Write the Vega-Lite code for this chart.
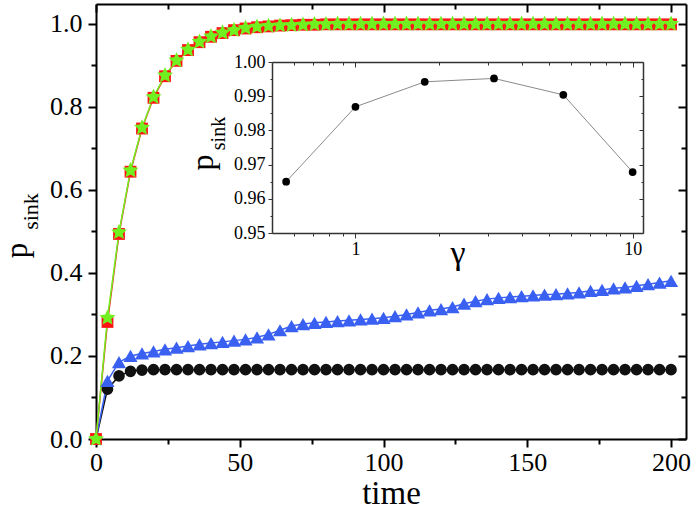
{
  "$schema": "https://vega.github.io/schema/vega-lite/v6.json",
  "width": 590,
  "height": 435,
  "autosize": {"type": "none"},
  "padding": {"left": 96, "top": 4, "right": 6, "bottom": 72},
  "background": "white",
  "config": {
    "view": {"stroke": null},
    "axis": {
      "grid": false,
      "labelFont": "Liberation Serif",
      "titleFont": "Liberation Serif",
      "labelColor": "black",
      "titleColor": "black",
      "titleFontWeight": "normal",
      "domainColor": "black",
      "tickColor": "black",
      "labelOverlap": false,
      "labelFlush": false
    }
  },
  "datasets": {
    "main": [
      {"s":"k","t":0,"p":0},{"s":"k","t":4,"p":0.12},{"s":"k","t":8,"p":0.152},{"s":"k","t":12,"p":0.163},{"s":"k","t":16,"p":0.166},
      {"s":"k","t":20,"p":0.167},{"s":"k","t":24,"p":0.167},{"s":"k","t":28,"p":0.167},{"s":"k","t":32,"p":0.167},{"s":"k","t":36,"p":0.167},
      {"s":"k","t":40,"p":0.167},{"s":"k","t":44,"p":0.167},{"s":"k","t":48,"p":0.167},{"s":"k","t":52,"p":0.167},{"s":"k","t":56,"p":0.167},
      {"s":"k","t":60,"p":0.167},{"s":"k","t":64,"p":0.167},{"s":"k","t":68,"p":0.167},{"s":"k","t":72,"p":0.167},{"s":"k","t":76,"p":0.167},
      {"s":"k","t":80,"p":0.167},{"s":"k","t":84,"p":0.167},{"s":"k","t":88,"p":0.167},{"s":"k","t":92,"p":0.167},{"s":"k","t":96,"p":0.167},
      {"s":"k","t":100,"p":0.167},{"s":"k","t":104,"p":0.167},{"s":"k","t":108,"p":0.167},{"s":"k","t":112,"p":0.167},{"s":"k","t":116,"p":0.167},
      {"s":"k","t":120,"p":0.167},{"s":"k","t":124,"p":0.167},{"s":"k","t":128,"p":0.167},{"s":"k","t":132,"p":0.167},{"s":"k","t":136,"p":0.167},
      {"s":"k","t":140,"p":0.167},{"s":"k","t":144,"p":0.167},{"s":"k","t":148,"p":0.167},{"s":"k","t":152,"p":0.167},{"s":"k","t":156,"p":0.167},
      {"s":"k","t":160,"p":0.167},{"s":"k","t":164,"p":0.167},{"s":"k","t":168,"p":0.167},{"s":"k","t":172,"p":0.167},{"s":"k","t":176,"p":0.167},
      {"s":"k","t":180,"p":0.167},{"s":"k","t":184,"p":0.167},{"s":"k","t":188,"p":0.167},{"s":"k","t":192,"p":0.167},{"s":"k","t":196,"p":0.167},
      {"s":"k","t":200,"p":0.167},
      {"s":"b","t":0,"p":0},{"s":"b","t":4,"p":0.14},{"s":"b","t":8,"p":0.185},{"s":"b","t":12,"p":0.2},{"s":"b","t":16,"p":0.206},
      {"s":"b","t":20,"p":0.211},{"s":"b","t":24,"p":0.216},{"s":"b","t":28,"p":0.22},{"s":"b","t":32,"p":0.224},{"s":"b","t":36,"p":0.228},
      {"s":"b","t":40,"p":0.231},{"s":"b","t":44,"p":0.234},{"s":"b","t":48,"p":0.237},{"s":"b","t":52,"p":0.24},{"s":"b","t":56,"p":0.245},
      {"s":"b","t":60,"p":0.252},{"s":"b","t":64,"p":0.262},{"s":"b","t":68,"p":0.272},{"s":"b","t":72,"p":0.277},{"s":"b","t":76,"p":0.28},
      {"s":"b","t":80,"p":0.282},{"s":"b","t":84,"p":0.284},{"s":"b","t":88,"p":0.286},{"s":"b","t":92,"p":0.288},{"s":"b","t":96,"p":0.29},
      {"s":"b","t":100,"p":0.292},{"s":"b","t":104,"p":0.296},{"s":"b","t":108,"p":0.3},{"s":"b","t":112,"p":0.305},{"s":"b","t":116,"p":0.31},
      {"s":"b","t":120,"p":0.313},{"s":"b","t":124,"p":0.318},{"s":"b","t":128,"p":0.326},{"s":"b","t":132,"p":0.332},{"s":"b","t":136,"p":0.337},
      {"s":"b","t":140,"p":0.34},{"s":"b","t":144,"p":0.342},{"s":"b","t":148,"p":0.344},{"s":"b","t":152,"p":0.346},{"s":"b","t":156,"p":0.348},
      {"s":"b","t":160,"p":0.349},{"s":"b","t":164,"p":0.351},{"s":"b","t":168,"p":0.353},{"s":"b","t":172,"p":0.357},{"s":"b","t":176,"p":0.359},
      {"s":"b","t":180,"p":0.363},{"s":"b","t":184,"p":0.365},{"s":"b","t":188,"p":0.369},{"s":"b","t":192,"p":0.373},{"s":"b","t":196,"p":0.377},
      {"s":"b","t":200,"p":0.381},
      {"s":"r","t":0,"p":0},{"s":"r","t":4,"p":0.282},{"s":"r","t":8,"p":0.494},{"s":"r","t":12,"p":0.644},{"s":"r","t":16,"p":0.748},
      {"s":"r","t":20,"p":0.822},{"s":"r","t":24,"p":0.874},{"s":"r","t":28,"p":0.911},{"s":"r","t":32,"p":0.937},{"s":"r","t":36,"p":0.956},
      {"s":"r","t":40,"p":0.969},{"s":"r","t":44,"p":0.978},{"s":"r","t":48,"p":0.985},{"s":"r","t":52,"p":0.989},{"s":"r","t":56,"p":0.992},
      {"s":"r","t":60,"p":0.994},{"s":"r","t":64,"p":0.996},{"s":"r","t":68,"p":0.997},{"s":"r","t":72,"p":0.998},{"s":"r","t":76,"p":0.998},
      {"s":"r","t":80,"p":0.999},{"s":"r","t":84,"p":0.999},{"s":"r","t":88,"p":0.999},{"s":"r","t":92,"p":0.999},{"s":"r","t":96,"p":0.999},
      {"s":"r","t":100,"p":0.999},{"s":"r","t":104,"p":0.999},{"s":"r","t":108,"p":0.999},{"s":"r","t":112,"p":0.999},{"s":"r","t":116,"p":0.999},
      {"s":"r","t":120,"p":0.999},{"s":"r","t":124,"p":0.999},{"s":"r","t":128,"p":0.999},{"s":"r","t":132,"p":0.999},{"s":"r","t":136,"p":0.999},
      {"s":"r","t":140,"p":0.999},{"s":"r","t":144,"p":0.999},{"s":"r","t":148,"p":0.999},{"s":"r","t":152,"p":0.999},{"s":"r","t":156,"p":0.999},
      {"s":"r","t":160,"p":0.999},{"s":"r","t":164,"p":0.999},{"s":"r","t":168,"p":0.999},{"s":"r","t":172,"p":0.999},{"s":"r","t":176,"p":0.999},
      {"s":"r","t":180,"p":0.999},{"s":"r","t":184,"p":0.999},{"s":"r","t":188,"p":0.999},{"s":"r","t":192,"p":0.999},{"s":"r","t":196,"p":0.999},
      {"s":"r","t":200,"p":0.999},
      {"s":"g","t":0,"p":0},{"s":"g","t":4,"p":0.292},{"s":"g","t":8,"p":0.498},{"s":"g","t":12,"p":0.647},{"s":"g","t":16,"p":0.75},
      {"s":"g","t":20,"p":0.824},{"s":"g","t":24,"p":0.876},{"s":"g","t":28,"p":0.912},{"s":"g","t":32,"p":0.938},{"s":"g","t":36,"p":0.957},
      {"s":"g","t":40,"p":0.97},{"s":"g","t":44,"p":0.979},{"s":"g","t":48,"p":0.985},{"s":"g","t":52,"p":0.99},{"s":"g","t":56,"p":0.993},
      {"s":"g","t":60,"p":0.995},{"s":"g","t":64,"p":0.996},{"s":"g","t":68,"p":0.997},{"s":"g","t":72,"p":0.998},{"s":"g","t":76,"p":0.999},
      {"s":"g","t":80,"p":0.999},{"s":"g","t":84,"p":1.0},{"s":"g","t":88,"p":1.0},{"s":"g","t":92,"p":1.0},{"s":"g","t":96,"p":1.0},
      {"s":"g","t":100,"p":1.0},{"s":"g","t":104,"p":1.0},{"s":"g","t":108,"p":1.0},{"s":"g","t":112,"p":1.0},{"s":"g","t":116,"p":1.0},
      {"s":"g","t":120,"p":1.0},{"s":"g","t":124,"p":1.0},{"s":"g","t":128,"p":1.0},{"s":"g","t":132,"p":1.0},{"s":"g","t":136,"p":1.0},
      {"s":"g","t":140,"p":1.0},{"s":"g","t":144,"p":1.0},{"s":"g","t":148,"p":1.0},{"s":"g","t":152,"p":1.0},{"s":"g","t":156,"p":1.0},
      {"s":"g","t":160,"p":1.0},{"s":"g","t":164,"p":1.0},{"s":"g","t":168,"p":1.0},{"s":"g","t":172,"p":1.0},{"s":"g","t":176,"p":1.0},
      {"s":"g","t":180,"p":1.0},{"s":"g","t":184,"p":1.0},{"s":"g","t":188,"p":1.0},{"s":"g","t":192,"p":1.0},{"s":"g","t":196,"p":1.0},
      {"s":"g","t":200,"p":1.0}
    ],
    "inset": [
      {"g":0.5623,"ps":0.965},
      {"g":1,"ps":0.9869},
      {"g":1.778,"ps":0.9942},
      {"g":3.162,"ps":0.9952},
      {"g":5.623,"ps":0.9904},
      {"g":10,"ps":0.9678}
    ]
  },
  "layer": [
    {
      "data": {"name": "main"},
      "layer": [
        {
          "mark": {"type": "line", "strokeWidth": 1.5},
          "encoding": {
            "x": {
              "field": "t", "type": "quantitative",
              "scale": {"domain": [0, 205.2], "nice": false, "zero": false},
              "axis": {
                "orient": "bottom",
                "values": [0,25,50,75,100,125,150,175,200],
                "labelExpr": "datum.value % 50 == 0 ? datum.label : ''",
                "tickSize": {"condition": {"test": "datum.value % 50 != 0", "value": 5}, "value": 8},
                "tickWidth": 2, "domainWidth": 2,
                "labelFontSize": 26, "labelPadding": 2,
                "title": "time", "titleFontSize": 33,
                "titleBaseline": "alphabetic", "titleY": 64
              }
            },
            "y": {
              "field": "p", "type": "quantitative",
              "scale": {"domain": [0, 1.048], "nice": false, "zero": false},
              "axis": {
                "orient": "left",
                "values": [0,0.1,0.2,0.3,0.4,0.5,0.6,0.7,0.8,0.9,1.0],
                "labelExpr": "round(datum.value*10) % 2 == 0 ? format(datum.value, '.1f') : ''",
                "tickSize": {"condition": {"test": "round(datum.value*10) % 2 != 0", "value": 5}, "value": 8},
                "tickWidth": 2, "domainWidth": 2,
                "labelFontSize": 26, "labelPadding": 6,
                "title": "p", "titleFontSize": 31, "titleAngle": 270,
                "titleAlign": "center", "titleBaseline": "alphabetic",
                "titleX": -70, "titleY": 246
              }
            },
            "color": {
              "field": "s", "type": "nominal",
              "scale": {"domain": ["k","b","r","g"], "range": ["#111111","#3a60f2","#ff1414","#70f020"]},
              "legend": null
            }
          }
        },
        {
          "transform": [{"filter": "datum.s == 'k' && datum.t > 0"}],
          "mark": {"type": "point", "shape": "circle", "filled": true, "opacity": 1, "strokeWidth": 0, "color": "#111111", "size": 135},
          "encoding": {
            "x": {"field": "t", "type": "quantitative", "axis": null},
            "y": {"field": "p", "type": "quantitative", "axis": null}
          }
        },
        {
          "transform": [{"filter": "datum.s == 'b' && datum.t > 0"}],
          "mark": {"type": "point", "shape": "triangle-up", "filled": true, "opacity": 1, "strokeWidth": 0, "color": "#3a60f2", "size": 200},
          "encoding": {
            "x": {"field": "t", "type": "quantitative", "axis": null},
            "y": {"field": "p", "type": "quantitative", "axis": null}
          }
        },
        {
          "transform": [{"filter": "datum.s == 'r'"}],
          "mark": {"type": "point", "shape": "square", "filled": true, "opacity": 1, "strokeWidth": 0, "color": "#ff1414", "size": 140},
          "encoding": {
            "x": {"field": "t", "type": "quantitative", "axis": null},
            "y": {"field": "p", "type": "quantitative", "axis": null}
          }
        },
        {
          "transform": [{"filter": "datum.s == 'g'"}],
          "mark": {"type": "point", "shape": "M0,-1L0.282,-0.388L0.951,-0.309L0.456,0.148L0.588,0.809L0,0.48L-0.588,0.809L-0.456,0.148L-0.951,-0.309L-0.282,-0.388Z", "filled": true, "opacity": 1, "strokeWidth": 0, "color": "#70f020", "size": 280},
          "encoding": {
            "x": {"field": "t", "type": "quantitative", "axis": null},
            "y": {"field": "p", "type": "quantitative", "axis": null}
          }
        },
        {
          "mark": {"type": "point", "opacity": 0},
          "encoding": {
            "x": {
              "field": "t", "type": "quantitative",
              "axis": {
                "orient": "top",
                "values": [0,25,50,75,100,125,150,175,200],
                "labels": false,
                "tickSize": {"condition": {"test": "datum.value % 50 != 0", "value": -5}, "value": -8},
                "tickWidth": 2, "domainWidth": 2, "title": null
              }
            },
            "y": {
              "field": "p", "type": "quantitative",
              "axis": {
                "orient": "right",
                "values": [0,0.1,0.2,0.3,0.4,0.5,0.6,0.7,0.8,0.9,1.0],
                "labels": false,
                "tickSize": {"condition": {"test": "round(datum.value*10) % 2 != 0", "value": -5}, "value": -8},
                "tickWidth": 2, "domainWidth": 2, "title": null
              }
            }
          }
        },
        {
          "mark": {"type": "point", "opacity": 0},
          "encoding": {
            "x": {"field": "t", "type": "quantitative", "axis": null},
            "y": {
              "field": "p", "type": "quantitative",
              "axis": {
                "orient": "left", "labels": false, "ticks": false, "domain": false,
                "title": "sink", "titleFontSize": 22, "titleAngle": 270,
                "titleAlign": "center", "titleBaseline": "alphabetic",
                "titleX": -59, "titleY": 207
              }
            }
          }
        }
      ],
      "resolve": {"axis": {"x": "independent", "y": "independent"}}
    },
    {
      "data": {"name": "inset"},
      "layer": [
        {
          "mark": {"type": "line", "strokeWidth": 1, "color": "#8a8a8a"},
          "encoding": {
            "x": {
              "field": "g", "type": "quantitative",
              "scale": {"type": "log", "domain": [0.5, 10.9], "range": [176, 547], "nice": false},
              "axis": {
                "orient": "bottom", "offset": -206,
                "values": [0.6,0.7,0.8,0.9,1,2,3,4,5,6,7,8,9,10],
                "labelExpr": "datum.value == 1 ? '1' : (datum.value == 10 ? '10' : '')",
                "tickSize": {"condition": {"test": "datum.value != 1 && datum.value != 10", "value": 3}, "value": 5},
                "tickWidth": 1, "domainWidth": 1.5, "domainColor": "#333333", "tickColor": "#333333",
                "labelFontSize": 18, "labelPadding": 2,
                "title": "γ", "titleFontSize": 34, "titleBaseline": "alphabetic", "titleY": 30
              }
            },
            "y": {
              "field": "ps", "type": "quantitative",
              "scale": {"domain": [0.95, 1.0], "range": [229, 58], "nice": false, "zero": false},
              "axis": {
                "orient": "left", "offset": -176,
                "values": [0.95,0.955,0.96,0.965,0.97,0.975,0.98,0.985,0.99,0.995,1.0],
                "labelExpr": "round(datum.value*1000) % 10 == 0 ? format(datum.value, '.2f') : ''",
                "tickSize": {"condition": {"test": "round(datum.value*1000) % 10 != 0", "value": 2}, "value": 4},
                "tickWidth": 1, "domainWidth": 1.5, "domainColor": "#333333", "tickColor": "#333333",
                "labelFontSize": 18, "labelPadding": 3,
                "title": "p", "titleFontSize": 32, "titleAngle": 270,
                "titleAlign": "center", "titleBaseline": "alphabetic",
                "titleX": -60, "titleY": 158
              }
            }
          }
        },
        {
          "mark": {"type": "point", "filled": true, "color": "#000000", "opacity": 1, "size": 60},
          "encoding": {
            "x": {"field": "g", "type": "quantitative", "axis": null},
            "y": {"field": "ps", "type": "quantitative", "axis": null}
          }
        },
        {
          "mark": {"type": "point", "opacity": 0},
          "encoding": {
            "x": {
              "field": "g", "type": "quantitative",
              "axis": {
                "orient": "top", "offset": -58,
                "values": [0.6,0.7,0.8,0.9,1,2,3,4,5,6,7,8,9,10],
                "labels": false,
                "tickSize": {"condition": {"test": "datum.value != 1 && datum.value != 10", "value": -3}, "value": -5},
                "tickWidth": 1, "domainWidth": 1.5, "domainColor": "#333333", "tickColor": "#333333", "title": null
              }
            },
            "y": {
              "field": "ps", "type": "quantitative",
              "axis": {
                "orient": "right", "offset": -43,
                "values": [0.95,0.955,0.96,0.965,0.97,0.975,0.98,0.985,0.99,0.995,1.0],
                "labels": false,
                "tickSize": {"condition": {"test": "round(datum.value*1000) % 10 != 0", "value": -2}, "value": -4},
                "tickWidth": 1, "domainWidth": 1.5, "domainColor": "#333333", "tickColor": "#333333", "title": null
              }
            }
          }
        },
        {
          "mark": {"type": "point", "opacity": 0},
          "encoding": {
            "x": {"field": "g", "type": "quantitative", "axis": null},
            "y": {
              "field": "ps", "type": "quantitative",
              "axis": {
                "orient": "left", "offset": -176, "labels": false, "ticks": false, "domain": false,
                "title": "sink", "titleFontSize": 20, "titleAngle": 270,
                "titleAlign": "center", "titleBaseline": "alphabetic",
                "titleX": -48, "titleY": 129
              }
            }
          }
        }
      ],
      "resolve": {"axis": {"x": "independent", "y": "independent"}}
    }
  ],
  "resolve": {
    "scale": {"x": "independent", "y": "independent", "color": "independent"}
  }
}
